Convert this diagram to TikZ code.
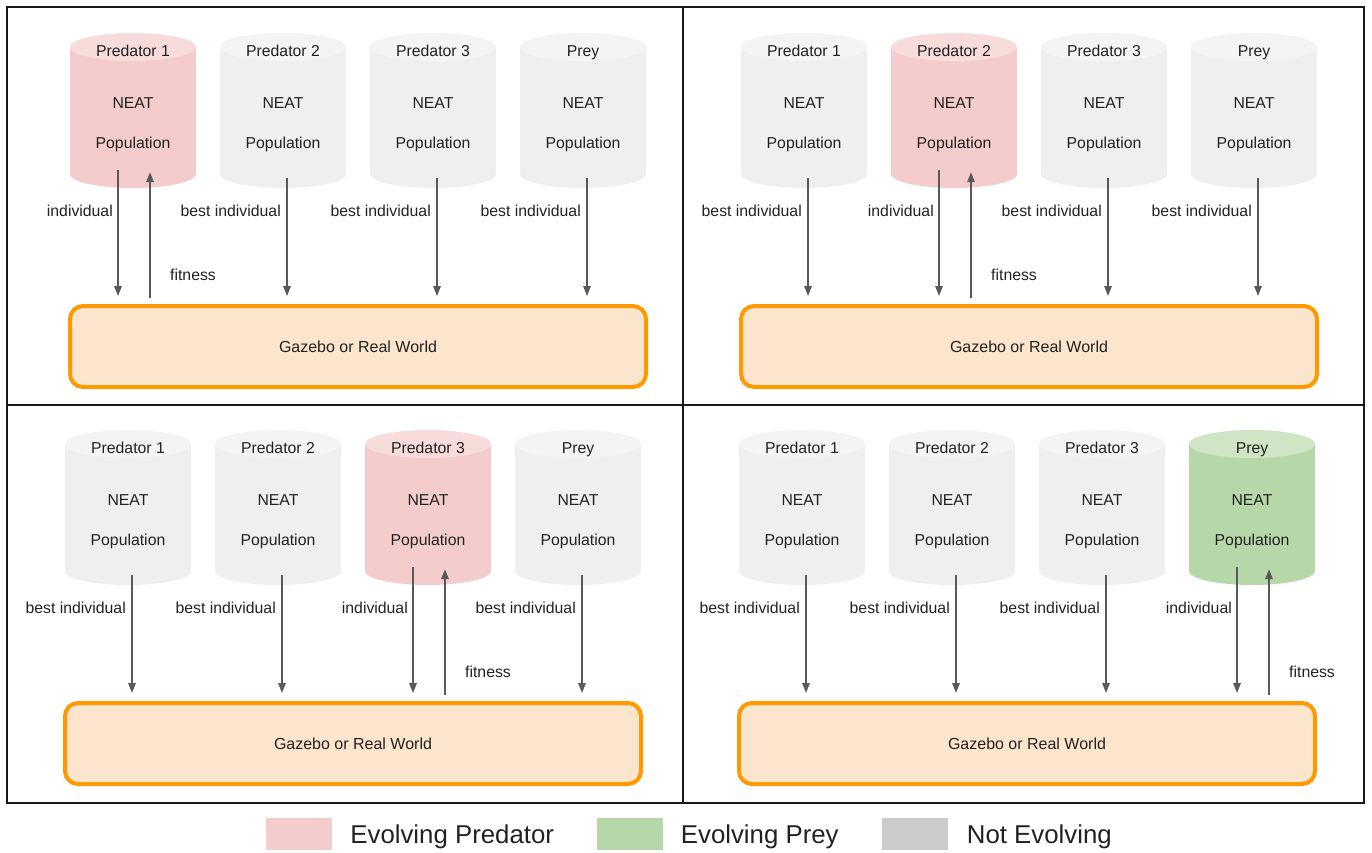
\documentclass[tikz,border=0pt]{standalone}
\usepackage{fontspec}
\setmainfont{Liberation Sans}
\usetikzlibrary{arrows.meta,positioning}

\definecolor{predbody}{HTML}{F4CCCC}
\definecolor{predtop}{HTML}{F8DCDC}
\definecolor{preybody}{HTML}{B6D7A8}
\definecolor{preytop}{HTML}{D0E5C6}
\definecolor{idlebody}{HTML}{EFEFEF}
\definecolor{idletop}{HTML}{F4F4F4}
\definecolor{idlekey}{HTML}{CCCCCC}
\definecolor{worldfill}{HTML}{FCE5CD}
\definecolor{worldline}{HTML}{FF9900}
\definecolor{flowgray}{HTML}{595959}
\definecolor{ink}{HTML}{222222}

\tikzset{
  frame/.style={line width=2.2pt, draw=black!90},
  world/.style={rounded corners=13pt, line width=4pt, draw=worldline, fill=worldfill,
    minimum width=576pt, minimum height=81pt, text=ink, font=\fontsize{16}{19}\selectfont},
  lbl/.style={inner sep=0pt, text height=0.75em, text depth=0.22em, text=ink,
    font=\fontsize{15.8}{19}\selectfont},
  flow/.style={line width=1.4pt, draw=flowgray, -{Triangle[length=10pt,width=7.5pt]}},
  key/.style={minimum width=66pt, minimum height=32pt, inner sep=0pt},
  keytxt/.style={inner sep=0pt, yshift=-3pt, text=ink, font=\fontsize{25.8}{30}\selectfont}
}

% one panel: name, x shift, y shift, index of the evolving population
\newcommand{\panel}[4]{%
  \begin{scope}[shift={(#2,#3)}]
    \node[world] (#1w) at (358,346.5) {Gazebo or Real World};
    \foreach \i/\lbl in {1/Predator 1,2/Predator 2,3/Predator 3,4/Prey}{
      \pgfmathsetmacro\cx{133+150*(\i-1)}
      \ifnum\i=#4\relax
        \ifnum#4=4\relax \def\kind{prey}\else \def\kind{pred}\fi
      \else \def\kind{idle}\fi
      % cylinder
      \fill[\kind body] (\cx,174) ellipse[x radius=63, y radius=14];
      \fill[\kind body] (\cx-63,47) rectangle (\cx+63,174);
      \fill[\kind top] (\cx,47) ellipse[x radius=63, y radius=14];
      \node[inner sep=0pt, minimum width=126pt, minimum height=155pt] (#1c\i) at (\cx,110.5) {};
      \node[lbl] (#1t\i) at (\cx,54) {\lbl};
      \node[lbl] (#1n\i) at (\cx,106) {NEAT};
      \node[lbl] (#1p\i) at (\cx,146) {Population};
      % links to the world
      \ifnum\i=#4\relax
        \draw[flow] ([xshift=-15pt,yshift=18pt]#1c\i.south) -- ([xshift=-15pt,yshift=8pt]#1c\i.south |- #1w.north);
        \draw[flow] ([xshift=17pt,yshift=6pt]#1c\i.south |- #1w.north) -- ([xshift=17pt,yshift=16pt]#1c\i.south);
        \node[lbl, anchor=east] (#1i\i) at (\cx-20,214) {individual};
        \node[lbl, anchor=west] (#1f\i) at (\cx+37,278) {fitness};
      \else
        \draw[flow] ([xshift=4pt,yshift=10pt]#1c\i.south) -- ([xshift=4pt,yshift=8pt]#1c\i.south |- #1w.north);
        \node[lbl, anchor=east] (#1b\i) at (\cx-2,214) {best individual};
      \fi
    }
  \end{scope}}

\begin{document}
\begin{tikzpicture}[x=1pt, y=-1pt]
  \useasboundingbox (0,0) rectangle (1372,852);

  % four panels
  \panel{a}{0}{0}{1}
  \panel{b}{671}{0}{2}
  \panel{c}{-5}{397}{3}
  \panel{d}{669}{397}{4}

  % frame
  \draw[frame] (7,7) rectangle (1364,803);
  \draw[frame] (683,7) -- (683,803);
  \draw[frame] (7,405) -- (1364,405);

  % legend
  \node[key, fill=predbody] (k1) at (299,834) {};
  \node[keytxt, right=18pt of k1] (k1t) {Evolving Predator};
  \node[key, fill=preybody] (k2) at (629.5,834) {};
  \node[keytxt, right=18pt of k2] (k2t) {Evolving Prey};
  \node[key, fill=idlekey] (k3) at (914.5,834) {};
  \node[keytxt, right=19pt of k3] (k3t) {Not Evolving};
\end{tikzpicture}
\end{document}
